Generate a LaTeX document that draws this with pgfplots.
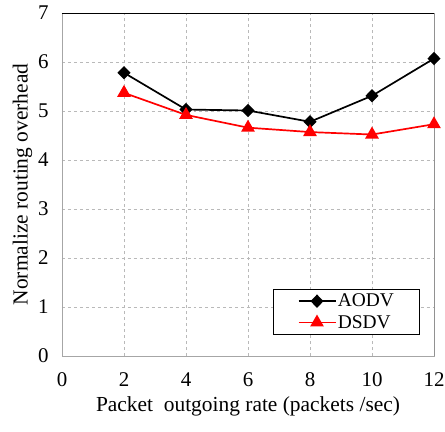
\documentclass[border=0pt]{standalone}
\usepackage{fontspec}
\setmainfont{Liberation Serif}
\usepackage{pgfplots}
\pgfplotsset{compat=1.18}

\begin{document}
\begin{tikzpicture}
% page size as in the reference: axis box 372 x 343 with room for labels
\path[use as bounding box] (-62bp,-76bp) rectangle (383bp,356bp);
\begin{axis}[
  anchor=south west, at={(0,0)},
  scale only axis,
  width=372bp, height=343bp,
  xmin=0, xmax=12, ymin=0, ymax=7,
  xtick={0,2,...,12}, ytick={0,1,...,7},
  major tick length=0pt,
  grid=major,
  major grid style={dashed, gray!55, line width=0.6pt},
  axis line style={gray!70, line width=0.8pt},
  tick label style={font=\fontsize{21}{23}\selectfont},
  /pgf/number format/assume math mode=true,
  xticklabel style={yshift=-13bp},
  yticklabel style={xshift=-10bp},
  xlabel={Packet\ \ outgoing rate (packets /sec)},
  ylabel={Normalize routing overhead},
  label style={font=\fontsize{21.5}{23}\selectfont},
  xlabel style={yshift=-3bp},
  ylabel style={yshift=-1bp},
  legend style={at={(0.962,0.061)}, anchor=south east, draw=black, line width=0.8pt,
    font=\fontsize{19.5}{23}\selectfont, inner xsep=24bp, inner ysep=3bp,
    legend cell align=left, row sep=3bp, nodes={inner xsep=1.5bp}},
  legend image code/.code={%
    \draw[mark repeat=2,mark phase=2,#1] plot coordinates {(0bp,0bp) (18.5bp,0bp) (37bp,0bp)};},
]
\addplot[black, line width=1.7pt, mark=diamond*, mark size=5.5pt, mark options={solid, xscale=1.3}]
  coordinates {(2,5.78) (4,5.03) (6,5.01) (8,4.78) (10,5.31) (12,6.07)};
\addplot[red, line width=1.7pt, mark=triangle*, mark size=6.3pt, mark options={solid}]
  coordinates {(2,5.37) (4,4.92) (6,4.66) (8,4.57) (10,4.52) (12,4.73)};
\legend{AODV, DSDV}
\draw[black, line width=0.9pt] (rel axis cs:0,1) -- (rel axis cs:1,1) -- (rel axis cs:1,0);
\end{axis}
\end{tikzpicture}
\end{document}
